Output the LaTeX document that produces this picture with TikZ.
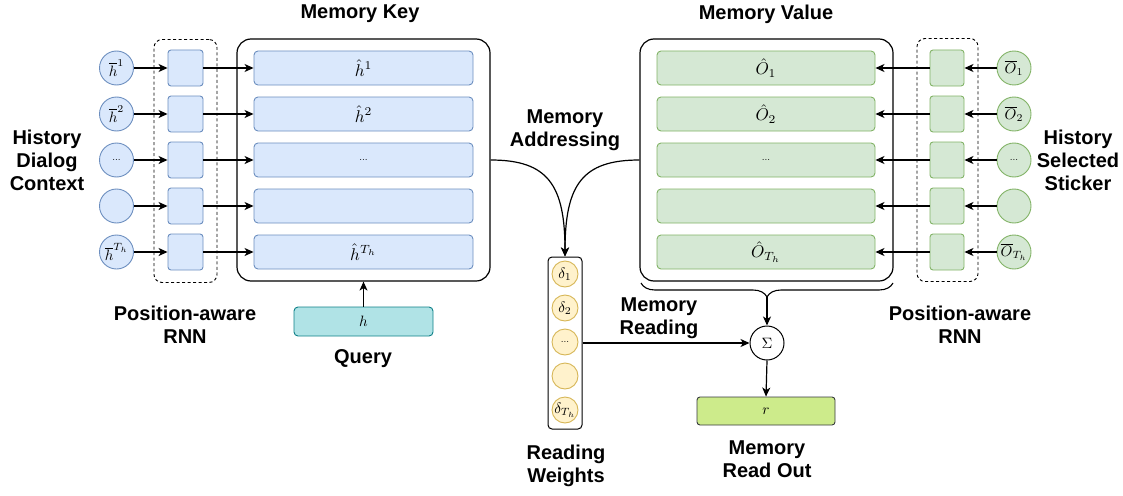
\documentclass[tikz,border=0pt]{standalone}
\usepackage[no-math]{fontspec}
\usepackage{graphicx}
\newfontfamily\lab{Liberation Sans}
\usetikzlibrary{arrows.meta,decorations.pathreplacing}
\definecolor{bfill}{HTML}{DAE8FC}
\definecolor{bdraw}{HTML}{6C8EBF}
\definecolor{gfill}{HTML}{D5E8D4}
\definecolor{gdraw}{HTML}{82B366}
\definecolor{yfill}{HTML}{FFF2CC}
\definecolor{ydraw}{HTML}{D6B656}
\definecolor{qfill}{HTML}{B0E3E6}
\definecolor{qdraw}{HTML}{0E8088}
\definecolor{rfill}{HTML}{CDEB8B}
\definecolor{rdraw}{HTML}{36393D}
\newcommand{\barmath}[1]{\scalebox{1.7}{$#1$}}
\newcommand{\cirmath}[1]{\scalebox{1.5}{$#1$}}
\begin{document}
\begin{tikzpicture}[x=1pt,y=-1pt,
  lbl/.style={font=\lab\bfseries\fontsize{20}{23}\selectfont, align=center, inner sep=0},
  dots/.style={font=\fontsize{10}{12}\selectfont},
  bcirc/.style={circle, draw=bdraw, fill=bfill, line width=0.9pt, minimum size=34pt, inner sep=0},
  gcirc/.style={circle, draw=gdraw, fill=gfill, line width=0.9pt, minimum size=34pt, inner sep=0},
  ycirc/.style={circle, draw=ydraw, fill=yfill, line width=0.9pt, minimum size=26pt, inner sep=0},
  bsq/.style={rectangle, rounded corners=3pt, draw=bdraw, fill=bfill, line width=0.9pt, minimum width=35pt, minimum height=36pt, inner sep=0},
  gsq/.style={rectangle, rounded corners=3pt, draw=gdraw, fill=gfill, line width=0.9pt, minimum width=34pt, minimum height=36pt, inner sep=0},
  bbar/.style={rectangle, rounded corners=4pt, draw=bdraw, fill=bfill, line width=0.9pt, minimum width=219pt, minimum height=34pt, inner sep=0},
  gbar/.style={rectangle, rounded corners=4pt, draw=gdraw, fill=gfill, line width=0.9pt, minimum width=218pt, minimum height=34pt, inner sep=0},
  outer/.style={rectangle, rounded corners=14pt, draw=black, line width=1.2pt, minimum width=253pt, minimum height=242pt, inner sep=0},
  dbox/.style={rectangle, rounded corners=8pt, draw=black, dash pattern=on 3pt off 2.5pt, line width=0.9pt, minimum height=243pt, inner sep=0},
  arr/.style={line width=1.2pt, -{Stealth[length=9pt,width=8pt,inset=2.5pt]}},
]
\useasboundingbox (0,0) rectangle (1123,495);

% ---------- frames ----------
\node[dbox, minimum width=63pt] (ldash) at (185.5,161) {};
\node[outer] (mk) at (363.5,160) {};
\node[dbox, minimum width=61pt] (rdash) at (947.5,160) {};
\node[outer] (mv) at (766.5,160) {};

% ---------- left side ----------
\node[bcirc] (lc1) at (116.5,68) {\cirmath{\overline{h}^{1}}};
\node[bcirc] (lc2) at (116.5,114) {\cirmath{\overline{h}^{2}}};
\node[bcirc,dots] (lc3) at (116.5,160) {...};
\node[bcirc] (lc4) at (116.5,206) {};
\node[bcirc] (lc5) at (116.5,252) {\cirmath{\overline{h}^{T_h}}};

\node[bsq] (ls1) at (185.5,68) {};
\node[bsq] (ls2) at (185.5,114) {};
\node[bsq] (ls3) at (185.5,160) {};
\node[bsq] (ls4) at (185.5,206) {};
\node[bsq] (ls5) at (185.5,252) {};

\node[bbar] (kb1) at (363.5,68) {\barmath{\hat{h}^{1}}};
\node[bbar] (kb2) at (363.5,114) {\barmath{\hat{h}^{2}}};
\node[bbar,dots] (kb3) at (363.5,160) {...};
\node[bbar] (kb4) at (363.5,206) {};
\node[bbar] (kb5) at (363.5,252) {\barmath{\hat{h}^{T_h}}};

\foreach \i in {1,...,5}{
  \draw[arr] (lc\i) -- (ls\i);
  \draw[arr] (ls\i) -- (kb\i);
}

% ---------- right side ----------
\node[gcirc] (rc1) at (1014,68) {\cirmath{\overline{O}_1}};
\node[gcirc] (rc2) at (1014,114) {\cirmath{\overline{O}_2}};
\node[gcirc,dots] (rc3) at (1014,160) {...};
\node[gcirc] (rc4) at (1014,206) {};
\node[gcirc] (rc5) at (1014,252) {\cirmath{\overline{O}_{T_h}}};

\node[gsq] (rs1) at (947,68) {};
\node[gsq] (rs2) at (947,114) {};
\node[gsq] (rs3) at (947,160) {};
\node[gsq] (rs4) at (947,206) {};
\node[gsq] (rs5) at (947,252) {};

\node[gbar] (vb1) at (766,68) {\barmath{\hat{O}_1}};
\node[gbar] (vb2) at (766,114) {\barmath{\hat{O}_2}};
\node[gbar,dots] (vb3) at (766,160) {...};
\node[gbar] (vb4) at (766,206) {};
\node[gbar] (vb5) at (766,252) {\barmath{\hat{O}_{T_h}}};

\foreach \i in {1,...,5}{
  \draw[arr] (rc\i) -- (rs\i);
  \draw[arr] (rs\i) -- (vb\i);
}

% ---------- query ----------
\node[rectangle, rounded corners=4pt, draw=qdraw, fill=qfill, line width=0.9pt, minimum width=139pt, minimum height=29pt, inner sep=0] (q) at (363.5,321.5) {\cirmath{h}};
\draw[arr] (q) -- (mk.south);

% ---------- reading weights ----------
\node[rectangle, rounded corners=4pt, draw=black, line width=1pt, minimum width=34pt, minimum height=172pt, inner sep=0] (rw) at (565,343) {};
\node[ycirc] (d1) at (565,274) {\cirmath{\delta_1}};
\node[ycirc] (d2) at (565,308) {\cirmath{\delta_2}};
\node[ycirc,dots] (d3) at (565,342) {...};
\node[ycirc] (d4) at (565,376) {};
\node[ycirc] (d5) at (565,410) {\cirmath{\delta_{T_h}}};

\draw[arr] (mk.east) .. controls (548,160) and (565,185) .. (rw.north);
\draw[arr] (mv.west) .. controls (582,160) and (565,185) .. (rw.north);

% ---------- sum and read out ----------
\node[circle, draw=black, fill=white, line width=1pt, minimum size=34pt, inner sep=0] (sig) at (767,343) {\cirmath{\Sigma}};
\node[rectangle, rounded corners=3pt, draw=rdraw, fill=rfill, line width=0.9pt, minimum width=138pt, minimum height=28pt, inner sep=0] (r) at (766,411) {\cirmath{r}};

\draw[line width=1.1pt, decorate, decoration={brace, mirror, amplitude=14pt}] (641,283) -- (893,283);
\coordinate (btip) at (767,297);
\draw[arr] (btip) -- (sig.north);
\draw[arr] (rw.east |- sig.west) -- (sig.west);
\draw[arr] (sig.south) -- (r.north);

% ---------- labels ----------
\node[lbl] (tmk) at (360,14) {Memory Key};
\node[lbl] (tmv) at (766,14) {Memory Value};
\node[lbl] (thd) at (47,160) {History\\Dialog\\Context};
\node[lbl] (ths) at (1078,160) {History\\Selected\\Sticker};
\node[lbl] (tma) at (565,130) {Memory\\Addressing};
\node[lbl] (tpl) at (185,325) {Position-aware\\RNN};
\node[lbl] (tpr) at (960,325) {Position-aware\\RNN};
\node[lbl] (tq) at (363,359) {Query};
\node[lbl] (trw) at (566,466) {Reading\\Weights};
\node[lbl] (tmr) at (659,318) {Memory\\Reading};
\node[lbl] (tro) at (767,459) {Memory\\Read Out};
\end{tikzpicture}
\end{document}
